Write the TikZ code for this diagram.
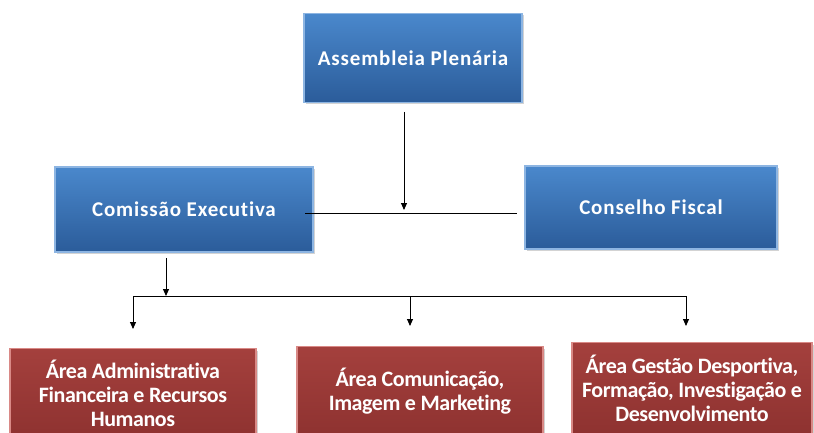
\documentclass[tikz,border=0pt]{standalone}
\usepackage{fontspec}
\setmainfont{Carlito}
\newfontfamily\topfont{Carlito}[LetterSpace=4,Ligatures=NoCommon]
\newfontfamily\botfont{Carlito}[LetterSpace=-2,Ligatures=NoCommon]
\usetikzlibrary{arrows.meta,shadows}
\definecolor{bluetop}{HTML}{4A88CC}
\definecolor{bluebot}{HTML}{2B5C9A}
\definecolor{blueedge}{HTML}{8DB5E2}
\definecolor{redtop}{HTML}{A4403D}
\definecolor{redbot}{HTML}{8E3230}
\definecolor{rededge}{HTML}{D98986}
\tikzset{
  x=1pt,y=-1pt,
  bluebox/.style={draw=blueedge,line width=1.2pt,top color=bluetop,bottom color=bluebot,
    drop shadow={shadow xshift=1.5pt,shadow yshift=-2pt,opacity=0.35},
    text=white,font=\topfont\bfseries\fontsize{21}{24}\selectfont,align=center,inner sep=0pt},
  redbox/.style={draw=rededge,line width=1.2pt,top color=redtop,bottom color=redbot,
    drop shadow={shadow xshift=1.5pt,shadow yshift=-2pt,opacity=0.35},
    text=white,font=\botfont\bfseries\fontsize{22}{24}\selectfont,align=center,inner sep=0pt},
  conn/.style={line width=0.9pt,black},
  arr/.style={conn,-{Triangle[length=7pt,width=6pt]}}
}
\begin{document}
\begin{tikzpicture}
\useasboundingbox (0,0) rectangle (814,433);
\node[bluebox,minimum width=218,minimum height=89] (ap) at (413,58) {Assembleia Plenária};
\node[bluebox,minimum width=258,minimum height=85] (ce) at (184,209.5) {Comissão Executiva};
\node[bluebox,minimum width=252,minimum height=83] (cf) at (651,207.5) {Conselho Fiscal};
\node[redbox,minimum width=246,minimum height=90,anchor=north] (a1) at (133,348) {Área Administrativa\\Financeira e Recursos\\Humanos};
\node[redbox,minimum width=246,minimum height=90,anchor=north] (a2) at (420,346) {Área Comunicação,\\Imagem e Marketing};
\node[redbox,minimum width=240,minimum height=92,anchor=north] (a3) at (692,342) {Área Gestão Desportiva,\\Formação, Investigação e\\Desenvolvimento};
\coordinate (l1) at (305,213);
\coordinate (r1) at (517,213);
\coordinate (m1) at (404,210);
\coordinate (t1) at (404,112);
\draw[conn] (l1) -- (r1);
\draw[arr] (t1) -- (m1);
\coordinate (c0) at (166,258);
\coordinate (c1) at (166,296);
\coordinate (h1) at (133,296);
\coordinate (h2) at (410,296);
\coordinate (h3) at (686,296);
\coordinate (d1) at (133,329);
\coordinate (d2) at (410,326);
\coordinate (d3) at (686,326);
\draw[arr] (c0) -- (c1);
\draw[conn] (h1) -- (h3);
\draw[arr] (h1) -- (d1);
\draw[arr] (h2) -- (d2);
\draw[arr] (h3) -- (d3);
\end{tikzpicture}
\end{document}
